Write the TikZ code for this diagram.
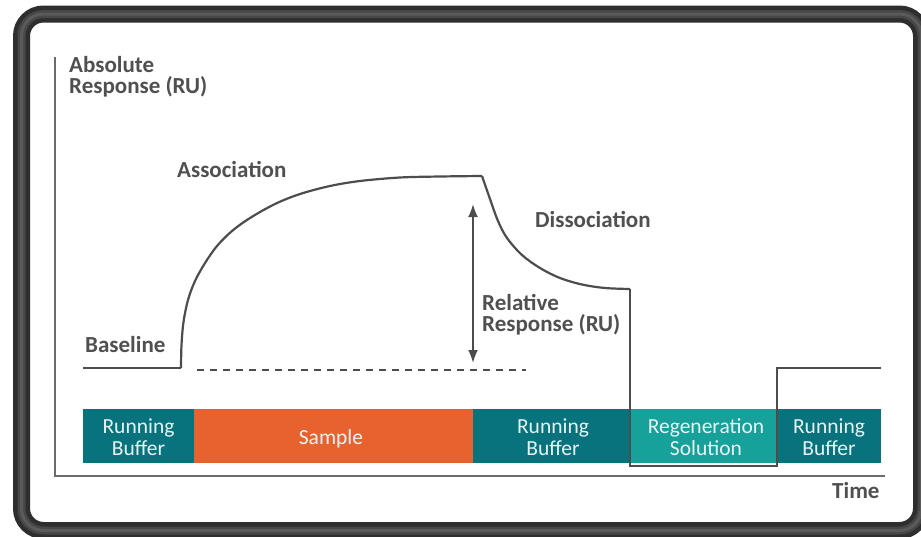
\documentclass[tikz,border=0pt]{standalone}
\usepackage{fontspec}
\setmainfont{Carlito}
\usetikzlibrary{arrows.meta}
\definecolor{frameA}{HTML}{2E2E2E}
\definecolor{frameB}{HTML}{474747}
\definecolor{frameC}{HTML}{5A5A5A}
\definecolor{axisgray}{HTML}{6B6B6B}
\definecolor{curvegray}{HTML}{4D4D4D}
\definecolor{txtgray}{HTML}{505050}
\definecolor{tealdark}{HTML}{08737D}
\definecolor{orangesample}{HTML}{E8622F}
\definecolor{tealregen}{HTML}{17A19B}
\definecolor{bartext}{HTML}{E8F4F4}
\tikzset{
  lbl/.style={font=\fontsize{23}{21}\selectfont\bfseries, text=txtgray, inner sep=0pt, anchor=base west},
  barlbl/.style={font=\fontsize{21.5}{20}\selectfont, text=bartext, inner sep=0pt, anchor=base, text height=13pt, text depth=3pt},
  curve/.style={draw=curvegray, line width=2.2pt, line join=miter},
  axisline/.style={draw=axisgray, line width=2.2pt},
}
\begin{document}
\begin{tikzpicture}[x=1pt,y=-1pt]
\useasboundingbox (0,0) rectangle (921,536);
\clip (0,0) rectangle (921,536);
\fill[white] (0,0) rectangle (921,536);
% frame
\draw[frameA, line width=17pt, rounded corners=22pt] (21.5,14) rectangle (921.5,530.5);
\draw[frameB, line width=8pt, rounded corners=22pt] (21.5,14) rectangle (921.5,530.5);
\draw[frameC, line width=3pt, rounded corners=22pt] (21.5,14) rectangle (921.5,530.5);
% axes
\coordinate (ytop) at (55,57);
\coordinate (orig) at (55,476);
\coordinate (xend) at (885,476);
\draw[axisline] (ytop) -- (orig) -- (xend);
% bars
\fill[tealdark] (83,409) rectangle (194,463);
\fill[orangesample] (194,409) rectangle (473,463);
\fill[tealdark] (473,409) rectangle (630,463);
\fill[tealregen] (630,409) rectangle (777,463);
\fill[tealdark] (777,409) rectangle (881,463);
\node[barlbl] (rb1a) at (138.5,433) {Running};
\node[barlbl] (rb1b) at (138.5,455) {Buffer};
\node[barlbl] (samp) at (331,444) {Sample};
\node[barlbl] (rb2a) at (553,433) {Running};
\node[barlbl] (rb2b) at (553,455) {Buffer};
\node[barlbl] (rga) at (706,433) {Regeneration};
\node[barlbl] (rgb) at (706,455) {Solution};
\node[barlbl] (rb3a) at (829,433) {Running};
\node[barlbl] (rb3b) at (829,455) {Buffer};
% curve
\coordinate (b0) at (83,368);
\coordinate (b1) at (181,368);
\coordinate (d1) at (630,289);
\coordinate (d2) at (630,466);
\coordinate (d3) at (777,466);
\coordinate (d4) at (777,368);
\coordinate (d5) at (881,368);
\draw[curve] (b0) -- (b1);
\draw[curve] plot[smooth, tension=0.55] coordinates {(181,368) (181.5,345) (183.5,322) (188,300) (195,281) (205,263) (217,246) (232,231) (250,218) (275,204) (300,194) (330,186) (360,181) (400,177.5) (440,176.5) (482,176)};
\draw[curve] plot[smooth, tension=0.55] coordinates {(482,176) (490,199) (498,221) (507,238) (522,255) (540,268) (560,278) (582,284.5) (605,288) (630,289)};
\draw[curve] (d1) -- (d2) -- (d3) -- (d4) -- (d5);
% dashed line
\coordinate (ds) at (197,370);
\coordinate (de) at (526,370);
\draw[curvegray, line width=1.6pt, dash pattern=on 7pt off 6pt] (ds) -- (de);
% arrow
\coordinate (at) at (473,204);
\coordinate (ab) at (473,363);
\draw[curvegray, line width=2pt, {Latex[length=13pt,width=10pt]}-{Latex[length=13pt,width=10pt]}] (at) -- (ab);
% labels
\node[lbl] (abs1) at (69,72) {Absolute};
\node[lbl] (abs2) at (69,93) {Response (RU)};
\node[lbl] (assoc) at (177,177) {Association};
\node[lbl] (dissoc) at (535,227) {Dissociation};
\node[lbl] (rel1) at (482,310) {Relative};
\node[lbl] (rel2) at (482,331) {Response (RU)};
\node[lbl] (base) at (85,352) {Baseline};
\node[lbl] (time) at (832,498) {Time};
\end{tikzpicture}
\end{document}
